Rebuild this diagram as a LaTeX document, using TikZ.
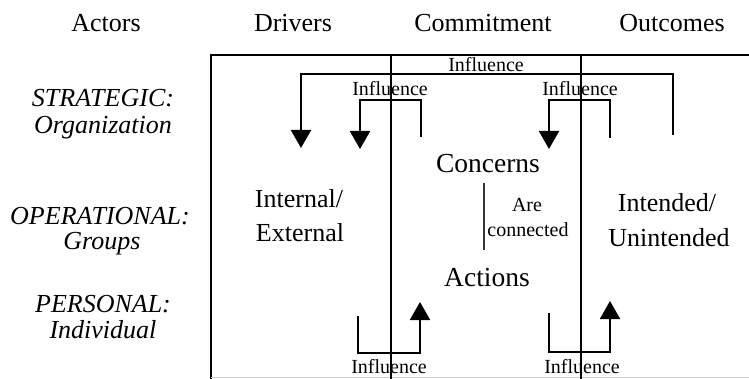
\documentclass[tikz,border=0pt]{standalone}
\usepackage{fontspec}
\setmainfont{Liberation Serif}
\usetikzlibrary{arrows.meta}
\begin{document}
\begin{tikzpicture}[x=1pt,y=-1pt,
  hdr/.style={font=\fontsize{26}{26}\selectfont, anchor=base, inner sep=0pt},
  lvl/.style={font=\fontsize{26}{26}\selectfont\itshape, anchor=base, inner sep=0pt},
  big/.style={font=\fontsize{27.5}{27.5}\selectfont, anchor=base, inner sep=0pt},
  small/.style={font=\fontsize{20}{20}\selectfont, anchor=base, inner sep=0pt},
  frame/.style={line width=2pt},
  divider/.style={line width=1.5pt},
  flow/.style={line width=2pt, -{Triangle[width=20pt,length=18pt]}}]
\useasboundingbox (0,0) rectangle (749,379);

% headers
\node[hdr] (hActors) at (106,32) {Actors};
\node[hdr] (hDrivers) at (293,32) {Drivers};
\node[hdr] (hCommit) at (483,32) {Commitment};
\node[hdr] (hOutcomes) at (672,32) {Outcomes};

% level labels
\node[lvl] (l1a) at (103,107) {STRATEGIC:};
\node[lvl] (l1b) at (103,134) {Organization};
\node[lvl] (l2a) at (100,225) {OPERATIONAL:};
\node[lvl] (l2b) at (102,250) {Groups};
\node[lvl] (l3a) at (103,312) {PERSONAL:};
\node[lvl] (l3b) at (103,338) {Individual};

% frame
\coordinate (fTL) at (211,55);
\coordinate (fTR) at (749,55);
\coordinate (fBL) at (211,379);
\coordinate (fBR) at (749,377.5);
\draw[frame] (fTR) -- (fTL) -- (fBL);
\draw[gray!40, line width=1pt] (211,377.5) -- (fBR);
\coordinate (d1t) at (391,55);
\coordinate (d1b) at (391,379);
\coordinate (d2t) at (581,55);
\coordinate (d2b) at (581,379);

% content texts
\node[hdr] (intA) at (299,208) {Internal/};
\node[hdr] (intB) at (300,242) {External};
\node[hdr] (outA) at (667,212) {Intended/};
\node[hdr] (outB) at (669,247) {Unintended};
\node[big] (concerns) at (488,173) {Concerns};
\node[big] (actions) at (487,287) {Actions};
\node[small] (are) at (527,212) {Are};
\node[small] (conn) at (528,237) {connected};
\coordinate (c1) at (484,183);
\coordinate (c2) at (484,250);
\draw[line width=2pt, black!80] (c1) -- (c2);

% influence labels
\node[small] (infTop) at (486,72) {Influence};
\node[small] (infL) at (390,96) {Influence};
\node[small] (infR) at (580,96) {Influence};
\node[small] (infBL) at (389,373) {Influence};
\node[small] (infBR) at (582,373) {Influence};

% dividers
\draw[divider] (d1t) -- (d1b);
\draw[divider] (d2t) -- (d2b);

% outer strategic influence
\coordinate (o1) at (673,135);
\coordinate (o2) at (301,148);
\draw[flow] (o1) -- (673,74) -- (301,74) -- (o2);

% inner top influences
\coordinate (a1) at (421,137);
\coordinate (a2) at (360,149);
\draw[flow] (a1) -- (421,100) -- (360,100) -- (a2);
\coordinate (b1) at (610,138);
\coordinate (b2) at (549,149);
\draw[flow] (b1) -- (610,100) -- (549,100) -- (b2);

% bottom influences
\coordinate (p1) at (358,316);
\coordinate (p2) at (420,302);
\draw[flow] (p1) -- (358,353) -- (420,353) -- (p2);
\coordinate (q1) at (549,313);
\coordinate (q2) at (610,301);
\draw[flow] (q1) -- (549,352) -- (610,352) -- (q2);
\end{tikzpicture}
\end{document}
